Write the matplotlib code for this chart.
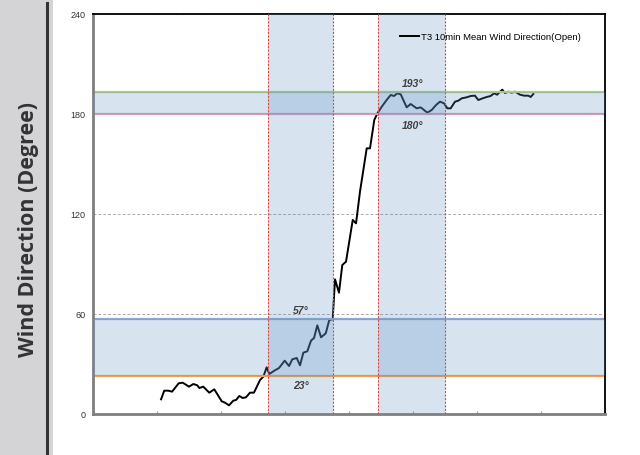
import matplotlib
matplotlib.use("Agg")
import matplotlib.pyplot as plt
from matplotlib.patches import Rectangle

plt.rcParams['font.family'] = ['Liberation Sans', 'DejaVu Sans']

# 10-min mean wind direction (x in minutes, y in degrees)
minutes = [63.8, 66.8, 70.6, 74.1, 80.3, 84.1, 90.0, 94.1, 97.8, 99.7, 103.4, 109.0,
           113.7, 120.7, 123.8, 127.5, 131.5, 134.1, 137.2, 140.3, 143.4, 147.2, 150.9,
           156.6, 159.7, 162.8, 165.3, 170.0, 174.4, 179.7, 183.8, 186.8, 191.0, 194.1,
           197.2, 200.9, 204.4, 207.2, 210.3, 213.8, 218.2, 221.5, 224.7, 226.9, 230.6,
           233.7, 237.2, 243.5, 246.6, 250.3, 256.6, 259.7, 263.7, 266.7, 270.7, 275.3,
           279.1, 282.2, 285.3, 288.5, 290.9, 294.1, 297.8, 303.5, 307.2, 310.3, 313.4,
           317.5, 321.6, 325.3, 329.1, 332.2, 335.3, 339.4, 342.5, 345.7, 350.3, 354.1,
           358.1, 361.2, 365.3, 369.1, 372.8, 375.9, 379.0, 381.6, 383.7, 386.2, 389.3,
           392.5, 395.6, 400.3, 404.1, 408.1, 410.3, 412.8]
direction = [8.8, 14.0, 14.0, 13.4, 18.4, 18.8, 16.4, 18.0, 17.2, 15.6, 16.4, 12.8,
             14.8, 7.6, 6.8, 5.2, 8.0, 8.4, 10.8, 9.6, 10.0, 12.8, 12.8,
             20.4, 22.4, 28.0, 24.0, 26.0, 27.6, 32.0, 28.8, 32.8, 33.6, 29.2,
             36.8, 37.6, 44.0, 45.6, 53.2, 46.0, 48.4, 56.4, 56.8, 80.8, 72.8,
             89.4, 91.4, 116.4, 114.4, 133.4, 159.4, 159.4, 176.4, 180.5, 184.4, 188.4,
             191.4, 190.8, 192.4, 191.8, 188.4, 184.0, 186.0, 183.4, 184.0, 182.4, 180.8,
             182.4, 185.4, 187.4, 186.4, 183.4, 183.4, 187.4, 188.0, 189.4, 190.0, 190.8,
             191.0, 188.4, 189.4, 190.2, 190.8, 192.4, 191.6, 193.4, 194.6, 192.6, 193.4,
             192.8, 193.4, 191.6, 191.0, 191.0, 190.2, 192.0]

x_bands = [(164, 225), (267, 330)]
y_bands = [(23, 57), (180, 193)]
y_lines = [23, 57, 180, 193]
y_line_colors = ['#f0a050', '#8eaad4', '#cba0b8', '#b0cc88']
angle_labels = ['23°', '57°', '180°', '193°']
angle_label_pos = [(195, 17), (195, 62), (300, 173), (300, 198)]

fig = plt.figure(figsize=(6.4, 4.55), dpi=100)

# grey side panel with the y label
fig.patches.append(Rectangle((0, 0), 53 / 640, 1, transform=fig.transFigure,
                             facecolor='#d4d4d6', edgecolor='none', zorder=0))
fig.add_artist(plt.Line2D([47 / 640, 47 / 640], [0, 0.994], transform=fig.transFigure,
                          color='#333333', lw=2.2))
fig.text(29 / 640, 0.495, 'Wind Direction (Degree)', rotation=90, ha='center', va='center',
         fontsize=15.5, fontweight='bold', color='#333333', family=['Open Sans', 'DejaVu Sans'])

ax = fig.add_axes([93 / 640, 41 / 455, 512 / 640, 400 / 455])
ax.plot(minutes, direction, color='black', lw=1.4, zorder=2,
        label='T3 10min Mean Wind Direction(Open)')

for y, c in zip(y_lines, y_line_colors):
    ax.axhline(y, color=c, lw=1.6, zorder=2.5)

for lo, hi in y_bands:
    ax.axhspan(lo, hi, color='#5b8fc3', alpha=0.24, lw=0, zorder=3)
for lo, hi in x_bands:
    ax.axvspan(lo, hi, color='#5b8fc3', alpha=0.24, lw=0, zorder=3)
    for xv in (lo, hi):
        ax.axvline(xv, color='#e04848', lw=0.8, ls=(0, (2, 1.2)), zorder=4)

for txt, (x, y) in zip(angle_labels, angle_label_pos):
    ax.text(x, y, txt, ha='center', va='center', fontsize=7.5, fontweight='bold',
            fontstyle='italic', color='#404040', zorder=5)

ax.set_xlim(0, 480)
ax.set_ylim(0, 240)
ax.set_xticks(range(0, 481, 60))
ax.set_xticklabels([])
ax.set_yticks(range(0, 241, 60))
ax.tick_params(axis='y', length=0, pad=5.5, labelsize=6.5, labelcolor='#333333')
ax.tick_params(axis='x', direction='in', length=2, color='#999999')
ax.yaxis.grid(True, ls=(0, (3, 2)), color='#aaaaaa', lw=0.7)
ax.set_axisbelow(True)

for side in ('left', 'bottom'):
    ax.spines[side].set_color('#7f7f7f')
    ax.spines[side].set_linewidth(2)
for side in ('top', 'right'):
    ax.spines[side].set_color('black')
    ax.spines[side].set_linewidth(1.3)

ax.legend(loc='upper right', bbox_to_anchor=(0.97, 0.975), frameon=False,
          fontsize=6.8, handlelength=2.0, handletextpad=0.2)

fig.savefig('out.png', dpi=100)
